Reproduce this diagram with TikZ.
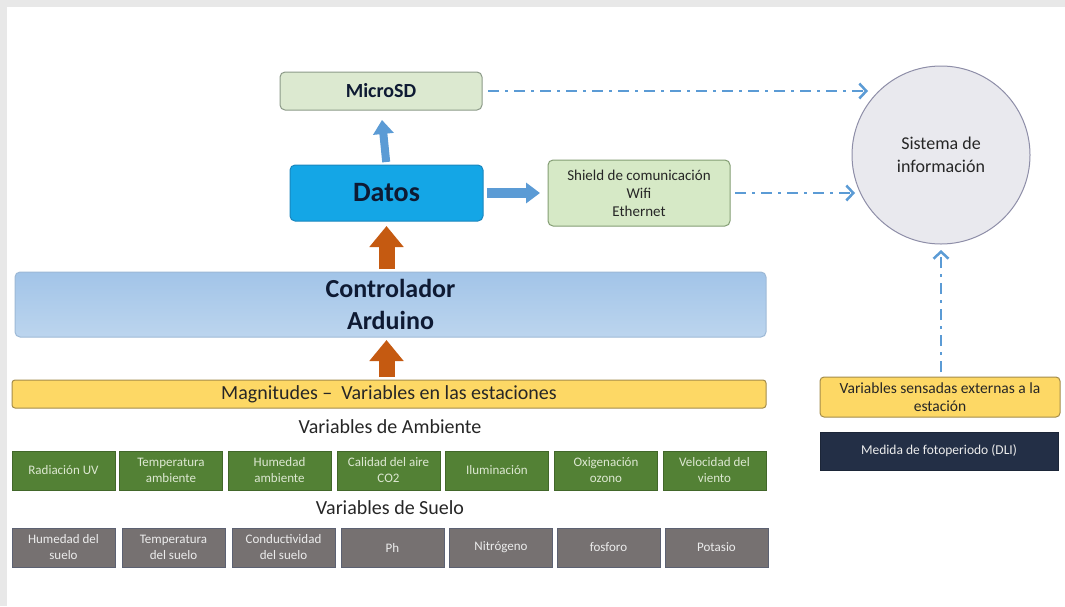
\documentclass[tikz,border=0pt]{standalone}
\usepackage{fontspec}
\setmainfont{Carlito}
\usetikzlibrary{arrows.meta,calc}
\definecolor{bgstrip}{HTML}{E8E8E8}
\definecolor{lblue}{HTML}{5B9BD5}
\definecolor{orng}{HTML}{C55A11}
\definecolor{sdfill}{HTML}{DCE9D0}
\definecolor{sdborder}{HTML}{8C9A88}
\definecolor{datfill}{HTML}{14A6E6}
\definecolor{datborder}{HTML}{1A86BE}
\definecolor{navytext}{HTML}{0E1A33}
\definecolor{shfill}{HTML}{D6E9C6}
\definecolor{shborder}{HTML}{849E74}
\definecolor{ctop}{HTML}{A2C4E8}
\definecolor{cbot}{HTML}{BCD5EE}
\definecolor{cborder}{HTML}{9DB9D6}
\definecolor{yel}{HTML}{FDD865}
\definecolor{yelborder}{HTML}{A48C4A}
\definecolor{grn}{HTML}{538135}
\definecolor{grntext}{HTML}{DDE8D2}
\definecolor{gry}{HTML}{767171}
\definecolor{gryborder}{HTML}{5C6172}
\definecolor{grytext}{HTML}{ECECEC}
\definecolor{navy}{HTML}{232F46}
\definecolor{circfill}{HTML}{E9E9EE}
\definecolor{circborder}{HTML}{8E8EA8}
\definecolor{txt}{HTML}{262626}
\begin{document}
\begin{tikzpicture}[x=1pt,y=-1pt,
  every node/.style={inner sep=0pt, outer sep=0pt, align=center},
  rbox/.style={draw, rounded corners=5pt, line width=1pt},
  varbox/.style={minimum width=103pt, minimum height=39pt, line width=0.8pt,
     font=\fontsize{13}{16}\selectfont},
  gbox/.style={varbox, fill=grn, draw=grn!80!black, text=grntext},
  sbox/.style={varbox, fill=gry, draw=gryborder, text=grytext},
  bluearrow/.style={draw=lblue, line width=8pt, -{Triangle[width=20pt,length=14pt]}},
  orarrow/.style={draw=orng, line width=16pt, -{Triangle[width=33pt,length=21pt]}},
  dashdot/.style={draw=lblue, line width=2.5pt,
     dash pattern=on 11pt off 6pt on 3pt off 6pt,
     -{Straight Barb[length=7pt,width=15pt]}},
  heading/.style={text=txt, font=\fontsize{20}{24}\selectfont}
]
\useasboundingbox (0,0) rectangle (1065,606);
\fill[white] (0,0) rectangle (1065,606);
\fill[bgstrip] (0,0) rectangle (1065,7);
\fill[bgstrip] (0,0) rectangle (7,606);

% top blocks
\node[rbox, fill=sdfill, draw=sdborder, minimum width=202pt, minimum height=38pt,
      text=navytext, font=\bfseries\fontsize{20}{22}\selectfont] (micro) at (381,91) {MicroSD};
\node[rbox, fill=datfill, draw=datborder, minimum width=193pt, minimum height=56pt,
      text=navytext, font=\bfseries\fontsize{28}{30}\selectfont] (datos) at (386.5,193) {Datos};
\node[rbox, fill=shfill, draw=shborder, minimum width=182pt, minimum height=66pt,
      text=txt, font=\fontsize{15}{18}\selectfont] (shield) at (639,193)
      {Shield de comunicación\\Wifi\\Ethernet};
\node[circle, fill=circfill, draw=circborder, line width=1pt, minimum size=178pt,
      text=txt, font=\fontsize{18}{23}\selectfont] (sis) at (941,155)
      {Sistema de\\información};

% controller and magnitudes
\node[rbox, top color=ctop, bottom color=cbot, draw=cborder, minimum width=751pt,
      minimum height=65pt, text=navytext, font=\bfseries\fontsize{26}{32}\selectfont]
      (ctrl) at (390.5,304.5) {Controlador\\Arduino};
\node[rbox, rounded corners=3pt, fill=yel, draw=yelborder, minimum width=754pt,
      minimum height=28pt, text=txt, font=\fontsize{20}{24}\selectfont]
      (mag) at (389,394) {Magnitudes --\ \ Variables en las estaciones};

\node[heading] (amb) at (390,427) {Variables de Ambiente};
\node[gbox] (g1) at (63.5,470.5) {Radiación UV};
\node[gbox] (g2) at (171,470.5) {Temperatura\\ambiente};
\node[gbox] (g3) at (279.5,470.5) {Humedad\\ambiente};
\node[gbox] (g4) at (388.5,470.5) {Calidad del aire\\CO2};
\node[gbox] (g5) at (497,470.5) {Iluminación};
\node[gbox] (g6) at (606,470.5) {Oxigenación\\ozono};
\node[gbox] (g7) at (714.5,470.5) {Velocidad del\\viento};

\node[heading] (suelo) at (390,508) {Variables de Suelo};
\node[sbox] (s1) at (63.5,547.5) {Humedad del\\suelo};
\node[sbox] (s2) at (173.5,547.5) {Temperatura\\del suelo};
\node[sbox] (s3) at (283.5,547.5) {Conductividad\\del suelo};
\node[sbox] (s4) at (392.5,547.5) {Ph};
\node[sbox] (s5) at (501,547.5) {Nitrógeno};
\node[sbox] (s6) at (608.5,547.5) {fosforo};
\node[sbox] (s7) at (716.5,547.5) {Potasio};

% external variables
\node[rbox, rounded corners=4pt, fill=yel, draw=yelborder, minimum width=240pt,
      minimum height=40pt, text=txt, font=\fontsize{15.5}{18}\selectfont]
      (ext) at (940,397) {Variables sensadas externas a la\\estación};
\node[fill=navy, draw=navy!80!black, minimum width=238pt, minimum height=38pt,
      text=grytext, font=\fontsize{13.5}{16}\selectfont]
      (dli) at (939,451) {Medida de fotoperiodo (DLI)};

% connectors
\coordinate (e1) at (868,91);
\coordinate (e2) at (855,193);
\draw[bluearrow, shorten <=3pt, shorten >=10pt] (datos.north) -- (micro.south);
\draw[bluearrow, line width=10pt, shorten <=4pt, shorten >=8pt] (datos.east) -- (shield.west);
\draw[orarrow, shorten <=3pt, shorten >=5pt] (ctrl.north -| datos) -- (datos.south);
\draw[orarrow, shorten <=3pt, shorten >=3pt] (mag.north -| datos) -- (ctrl.south -| datos);
\draw[dashdot, shorten <=6pt] (micro.east) -- (e1);
\draw[dashdot, shorten <=5pt] (shield.east) -- (e2);
\draw[dashdot, shorten <=5pt, shorten >=6pt] (ext.north -| sis) -- (sis.south);
\end{tikzpicture}
\end{document}
